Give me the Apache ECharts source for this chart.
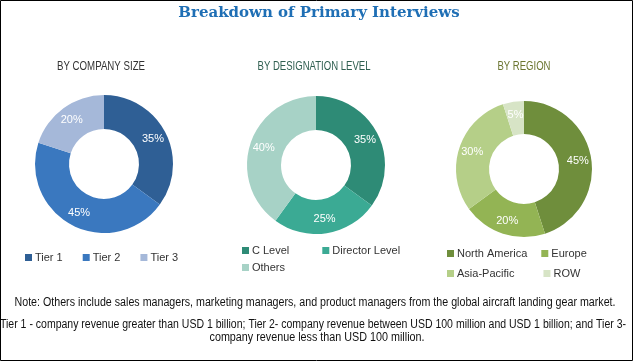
<!DOCTYPE html>
<html>
<head>
<meta charset="utf-8">
<script src="https://cdn.jsdelivr.net/npm/echarts@6/dist/echarts.min.js"></script>
<style>
html,body{margin:0;padding:0;background:#fff;}
#chart{width:634px;height:362px;}
</style>
</head>
<body>
<div id="chart"></div>
<script>
var companyNames = ['Tier 1', 'Tier 2', 'Tier 3'];
var companyValues = [35, 45, 20];
var designationNames = ['C Level', 'Director Level', 'Others'];
var designationValues = [35, 25, 40];
var regionNames = ['North America', 'Europe', 'Asia-Pacific', 'ROW'];
var regionValues = [45, 20, 30, 5];

var companyColors = ['#2F5F95', '#3A78BF', '#A5B8D9'];
var designationColors = ['#2E8B76', '#3BAA94', '#A7D2C6'];
var regionColors = ['#6F8E3C', '#93B454', '#B5CF88', '#D7E4C6'];

var sans = '"Liberation Sans", Arial, sans-serif';

var measureCtx = document.createElement('canvas').getContext('2d');
function measure(text, font) { measureCtx.font = font; return measureCtx.measureText(text).width; }

// condensed text: scale horizontally to the width seen in the picture
function ctext(text, cx, cy, targetWidth, size, color) {
  var font = size + 'px "Liberation Sans", Arial, sans-serif';
  var w = measure(text, font);
  return {
    type: 'text', x: cx, y: cy, scaleX: targetWidth / w, silent: true,
    style: { text: text, font: font, fill: color, align: 'center', verticalAlign: 'middle' }
  };
}

function toData(names, values) {
  return names.map(function (n, i) { return { name: n, value: values[i] }; });
}

function pieSeries(names, values, colors, center, radius) {
  return {
    type: 'pie',
    center: center,
    radius: radius,
    startAngle: 90,
    clockwise: true,
    avoidLabelOverlap: false,
    silent: true,
    color: colors,
    label: {
      show: true,
      position: 'inside',
      formatter: '{c}%',
      color: '#ffffff',
      fontSize: 11,
      fontFamily: sans
    },
    labelLine: { show: false },
    data: toData(names, values)
  };
}

var chart = echarts.init(document.getElementById('chart'), null, { renderer: 'canvas' });

function legend(data, left, top, gap) {
  return {
    data: data,
    left: left,
    top: top,
    orient: 'horizontal',
    icon: 'rect',
    itemWidth: 7,
    itemHeight: 7,
    itemGap: gap,
    padding: 0,
    selectedMode: false,
    textStyle: { fontSize: 11, color: '#333', fontFamily: sans, padding: [0, 0, 0, -2] }
  };
}

chart.setOption({
  animation: false,
  title: [
    { text: 'Breakdown of Primary Interviews', left: 314, top: 1, textAlign: 'center',
      textStyle: { fontFamily: '"DejaVu Serif", serif', fontWeight: 'bold', fontSize: 15, color: '#1F6FB5' } }
  ],
  legend: [
    legend(companyNames, 25, 252, 20),
    legend(designationNames.slice(0, 2), 242, 245, 33),
    legend(designationNames.slice(2), 242, 262, 10),
    legend(regionNames.slice(0, 2), 447, 248, 14),
    legend(regionNames.slice(2), 447, 268, 29)
  ],
  series: [
    pieSeries(companyNames, companyValues, companyColors, [104, 164], [35, 69]),
    pieSeries(designationNames, designationValues, designationColors, [316, 165], [35, 69]),
    pieSeries(regionNames, regionValues, regionColors, [524, 169], [35, 68])
  ],
  graphic: [
    ctext('BY COMPANY SIZE', 101, 67, 88, 12, '#333'),
    ctext('BY DESIGNATION LEVEL', 314, 67, 113, 12, '#2F5F50'),
    ctext('BY REGION', 524, 67, 53, 12, '#6B7530'),
    ctext('Note: Others include sales managers, marketing managers, and product managers from the global aircraft landing gear market.', 315, 303, 601, 12, '#111'),
    ctext('Tier 1 - company revenue greater than USD 1 billion; Tier 2- company revenue between USD 100 million and USD 1 billion; and Tier 3-', 313, 325, 626, 12, '#111'),
    ctext('company revenue less than USD 100 million.', 317, 338, 215, 12, '#111'),
    { type: 'rect', shape: { x: 0.5, y: 0.5, width: 632, height: 360 },
      style: { fill: 'none', stroke: '#000', lineWidth: 1 }, silent: true, z: 100 }
  ]
});
</script>
</body>
</html>
